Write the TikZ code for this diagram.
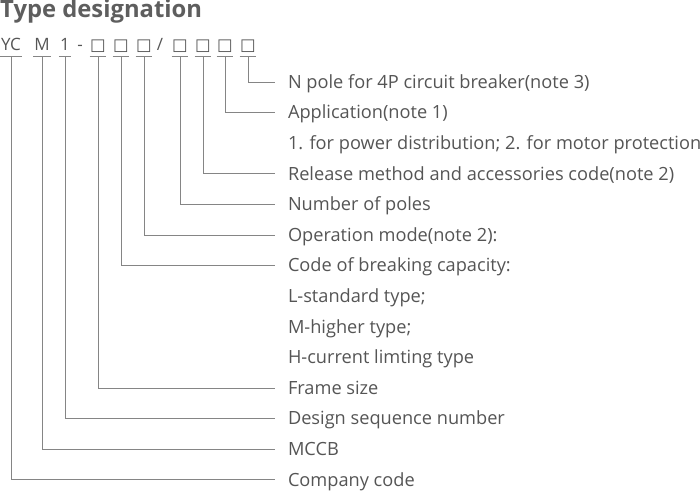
\documentclass[tikz,border=0pt]{standalone}
\usepackage{fontspec}
\setmainfont{Open Sans}
\newfontfamily\symfont{DejaVu Sans}
\usetikzlibrary{positioning}
\definecolor{txtgray}{HTML}{555555}
\definecolor{titlegray}{HTML}{5E5E5E}
\definecolor{lngray}{HTML}{858585}

\begin{document}
\begin{tikzpicture}[
    x=1pt, y=-1pt,
    code/.style={anchor=base, inner xsep=1pt, inner ysep=5pt, text depth=0pt,
        font=\fontsize{17}{17}\selectfont, text=txtgray},
    sepch/.style={code, inner ysep=0pt},
    box/.style={code, inner xsep=0.5pt, font=\symfont\fontsize{16.5}{17}\selectfont},
    lbl/.style={anchor=west, inner sep=0pt, outer xsep=13pt, text height=12.5pt,
        text depth=0pt, font=\fontsize{18.2}{20}\selectfont, text=txtgray},
    uline/.style={draw=lngray, line width=0.9pt},
    leader/.style={draw=lngray, line width=0.9pt},
]
\useasboundingbox (0,0) rectangle (700,500);

% Title
\node[anchor=base west, inner sep=0pt, text=titlegray,
    font=\bfseries\fontsize{23.8}{24}\selectfont] (title) at (0,18) {Type designation};

% Code string
\node[code] (yc) at (11,51) {YC};
\node[code] (mccb) at (42,51) {M};
\node[code] (seq) at (65,51) {1};
\node[sepch] (dash) at (80,51) {-};
\node[box] (frame) at (98,51) {□};
\node[box] (brk) at (121,51) {□};
\node[box] (oper) at (144,51) {□};
\node[sepch] (slash) at (160,51) {/};
\node[box] (poles) at (180,51) {□};
\node[box] (rel) at (203,51) {□};
\node[box] (appl) at (225,51) {□};
\node[box] (npole) at (248,51) {□};

% Underlines
\foreach \c in {yc,mccb,seq,frame,brk,oper,poles,rel,appl,npole}
    \draw[uline] (\c.south west) -- (\c.south east);

% Explanations
\node[lbl] (l1) at (275,82) {N pole for 4P circuit breaker(note 3)};
\node[lbl] (l2) at (275,112.6) {Application(note 1)};
\node[lbl] (l3) at (275,143.2) {1. for power distribution; 2. for motor protection};
\node[lbl] (l4) at (275,173.8) {Release method and accessories code(note 2)};
\node[lbl] (l5) at (275,204.4) {Number of poles};
\node[lbl] (l6) at (275,235) {Operation mode(note 2):};
\node[lbl] (l7) at (275,265.6) {Code of breaking capacity:};
\node[lbl] (l8) at (275,296.2) {L-standard type;};
\node[lbl] (l9) at (275,326.8) {M-higher type;};
\node[lbl] (l10) at (275,357.4) {H-current limting type};
\node[lbl] (l11) at (275,388) {Frame size};
\node[lbl] (l12) at (275,418.6) {Design sequence number};
\node[lbl] (l13) at (275,449.2) {MCCB};
\node[lbl] (l14) at (275,479.8) {Company code};

% Leaders
\draw[leader] (npole.south) |- (l1.west);
\draw[leader] (appl.south) |- (l2.west);
\draw[leader] (rel.south) |- (l4.west);
\draw[leader] (poles.south) |- (l5.west);
\draw[leader] (oper.south) |- (l6.west);
\draw[leader] (brk.south) |- (l7.west);
\draw[leader] (frame.south) |- (l11.west);
\draw[leader] (seq.south) |- (l12.west);
\draw[leader] (mccb.south) |- (l13.west);
\draw[leader] (yc.south) |- (l14.west);

\end{tikzpicture}
\end{document}
